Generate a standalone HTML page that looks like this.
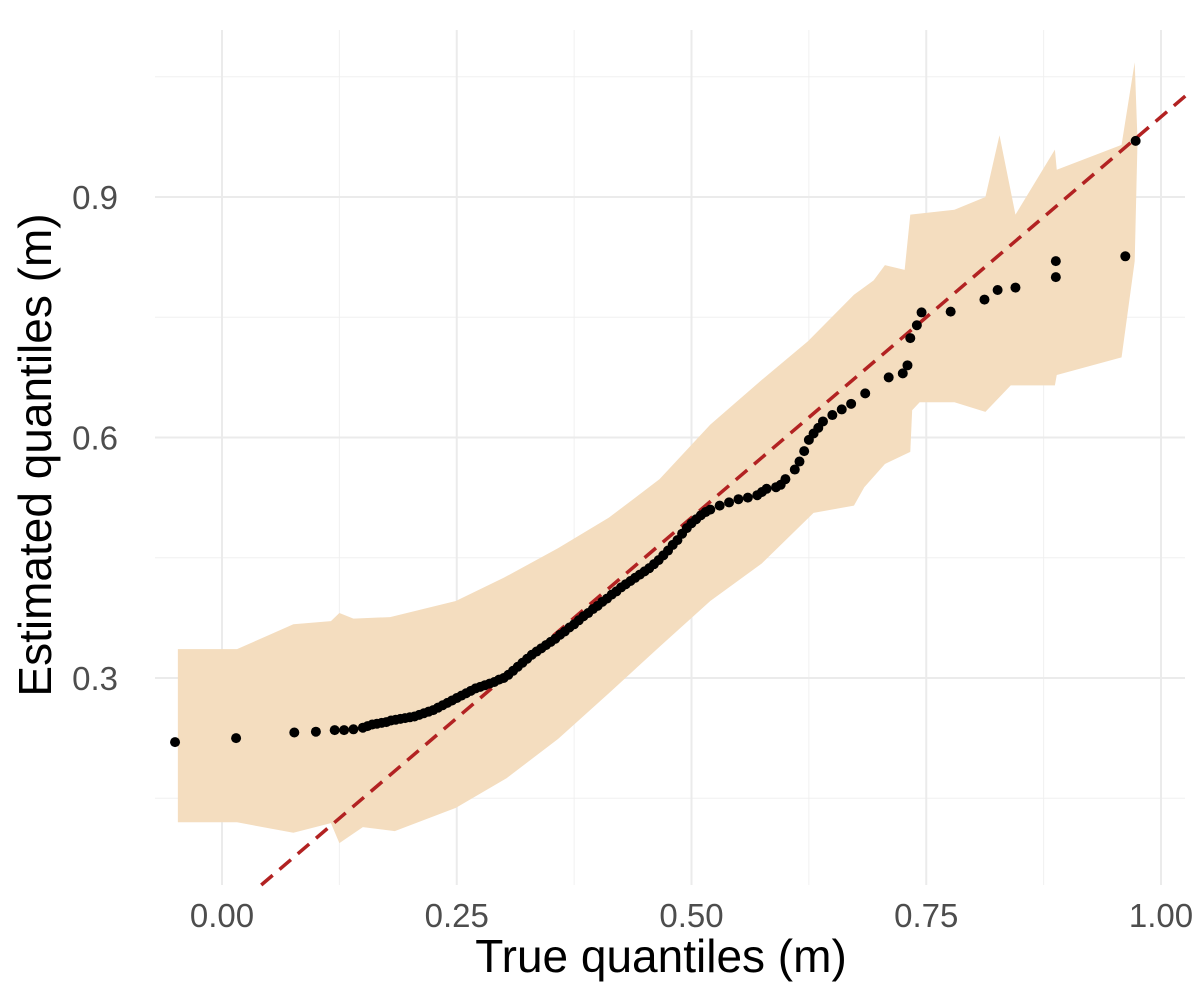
<!DOCTYPE html>
<html><head><meta charset="utf-8"><style>
html,body{margin:0;padding:0;background:#fff}
svg{display:block;font-family:"Liberation Sans",sans-serif}
</style></head><body>
<svg id="chart" width="1200" height="1000">
<g id="grid"></g>
<g id="ribbon"></g>
<g id="refline"></g>
<g id="points"></g>
<g id="ticks"></g>
<text x="661" y="972" text-anchor="middle" font-size="46" fill="#000">True quantiles (m)</text>
<text transform="translate(51,455) rotate(-90)" text-anchor="middle" font-size="46" fill="#000">Estimated quantiles (m)</text>
</svg>
<script>
const xTicks=[0,0.25,0.5,0.75,1.0];
const xTickLabels=["0.00","0.25","0.50","0.75","1.00"];
const yTicks=[0.3,0.6,0.9];
const yTickLabels=["0.3","0.6","0.9"];
const ptX=[-0.05,0.015,0.077,0.10,0.12,0.13,0.14,0.15,0.155,0.16,0.165,0.17,0.175,0.18,0.185,0.19,0.195,0.20,0.205,0.21,0.215,0.22,0.225,0.23,0.235,0.24,0.245,0.25,0.255,0.26,0.265,0.27,0.275,0.28,0.285,0.29,0.295,0.30,0.305,0.31,0.315,0.32,0.325,0.33,0.335,0.34,0.345,0.35,0.355,0.36,0.365,0.37,0.375,0.38,0.385,0.39,0.395,0.40,0.405,0.41,0.415,0.42,0.425,0.43,0.435,0.44,0.445,0.45,0.455,0.46,0.465,0.47,0.475,0.48,0.485,0.49,0.495,0.50,0.505,0.51,0.515,0.52,0.53,0.54,0.55,0.56,0.57,0.575,0.58,0.59,0.595,0.60,0.61,0.615,0.62,0.625,0.63,0.635,0.64,0.65,0.66,0.67,0.685,0.71,0.725,0.73,0.733,0.74,0.745,0.776,0.812,0.826,0.845,0.888,0.888,0.962,0.973];
const ptY=[0.220,0.225,0.232,0.233,0.235,0.235,0.236,0.238,0.240,0.242,0.243,0.244,0.245,0.247,0.248,0.249,0.250,0.251,0.252,0.254,0.256,0.258,0.260,0.263,0.266,0.269,0.272,0.275,0.278,0.281,0.284,0.287,0.289,0.291,0.293,0.295,0.298,0.300,0.304,0.309,0.314,0.319,0.324,0.329,0.333,0.337,0.341,0.345,0.349,0.354,0.358,0.363,0.367,0.372,0.377,0.381,0.386,0.390,0.395,0.399,0.404,0.408,0.413,0.417,0.421,0.425,0.429,0.433,0.437,0.442,0.447,0.453,0.459,0.466,0.472,0.480,0.487,0.493,0.498,0.503,0.507,0.510,0.515,0.519,0.523,0.525,0.528,0.532,0.536,0.538,0.541,0.548,0.560,0.570,0.583,0.597,0.605,0.612,0.620,0.628,0.635,0.642,0.655,0.675,0.680,0.690,0.724,0.740,0.756,0.757,0.772,0.784,0.787,0.800,0.820,0.826,0.970];
const upX=[-0.047,0.016,0.076,0.116,0.125,0.14,0.179,0.249,0.30,0.358,0.412,0.466,0.52,0.575,0.624,0.673,0.694,0.706,0.727,0.733,0.78,0.813,0.828,0.845,0.887,0.889,0.958,0.972,0.975];
const upY=[0.336,0.336,0.367,0.371,0.381,0.374,0.376,0.396,0.425,0.462,0.50,0.548,0.616,0.672,0.72,0.778,0.796,0.815,0.809,0.878,0.884,0.90,0.977,0.878,0.959,0.934,0.965,1.068,0.97];
const loX=[-0.047,0.016,0.076,0.116,0.125,0.15,0.184,0.249,0.303,0.358,0.412,0.466,0.52,0.575,0.63,0.673,0.684,0.706,0.733,0.735,0.743,0.78,0.813,0.84,0.887,0.889,0.958,0.972,0.975];
const loY=[0.12,0.12,0.107,0.119,0.094,0.114,0.109,0.138,0.175,0.224,0.281,0.339,0.396,0.443,0.506,0.515,0.538,0.567,0.582,0.634,0.644,0.644,0.632,0.665,0.665,0.678,0.70,0.82,0.97];
const X=v=>222+v*939, Y=v=>678-(v-0.3)*801.7;
const ns="http://www.w3.org/2000/svg";
function mk(t,a,p){const e=document.createElementNS(ns,t);for(const k in a)e.setAttribute(k,a[k]);p.appendChild(e);return e;}
const L=155,R=1185,T=30,B=885;
const g=document.getElementById('grid');
[0.125,0.375,0.625,0.875].forEach(v=>{const e=mk('line',{x1:X(v),x2:X(v),y1:T,y2:B,stroke:'#f0f0f0','stroke-width':1},g);

});
[0.15,0.45,0.75,1.05].forEach(v=>{const e=mk('line',{x1:L,x2:R,y1:Y(v),y2:Y(v),stroke:'#f0f0f0','stroke-width':1},g);

});
xTicks.forEach(v=>{const e=mk('line',{x1:X(v),x2:X(v),y1:T,y2:B,stroke:'#ebebeb','stroke-width':2},g);

});
yTicks.forEach(v=>{const e=mk('line',{x1:L,x2:R,y1:Y(v),y2:Y(v),stroke:'#ebebeb','stroke-width':2},g);

});
let pts=upX.map((x,i)=>X(x)+','+Y(upY[i]));
for(let i=loX.length-1;i>=0;i--)pts.push(X(loX[i])+','+Y(loY[i]));
const rb=mk('polygon',{points:pts.join(' '),fill:'#f4ddbf'},document.getElementById('ribbon'));


const x0=(0.3-(B-678)/801.7);const x1=1.03;
const ln=mk('line',{x1:X(x0),y1:Y(x0),x2:X(x1),y2:Y(x1),stroke:'#b22222','stroke-width':3.5,'stroke-dasharray':'15 9'},document.getElementById('refline'));


const pg=document.getElementById('points');
ptX.forEach((x,i)=>{const c=mk('circle',{cx:X(x),cy:Y(ptY[i]),r:5,fill:'#000'},pg);

});
const tg=document.getElementById('ticks');
xTicks.forEach((v,i)=>{const t=mk('text',{x:X(v),y:927,'text-anchor':'middle','font-size':33,fill:'#4d4d4d'},tg);t.textContent=xTickLabels[i];

});
yTicks.forEach((v,i)=>{const t=mk('text',{x:118,y:Y(v)+12,'text-anchor':'end','font-size':33,fill:'#4d4d4d'},tg);t.textContent=yTickLabels[i];

});
</script>
</body></html>
